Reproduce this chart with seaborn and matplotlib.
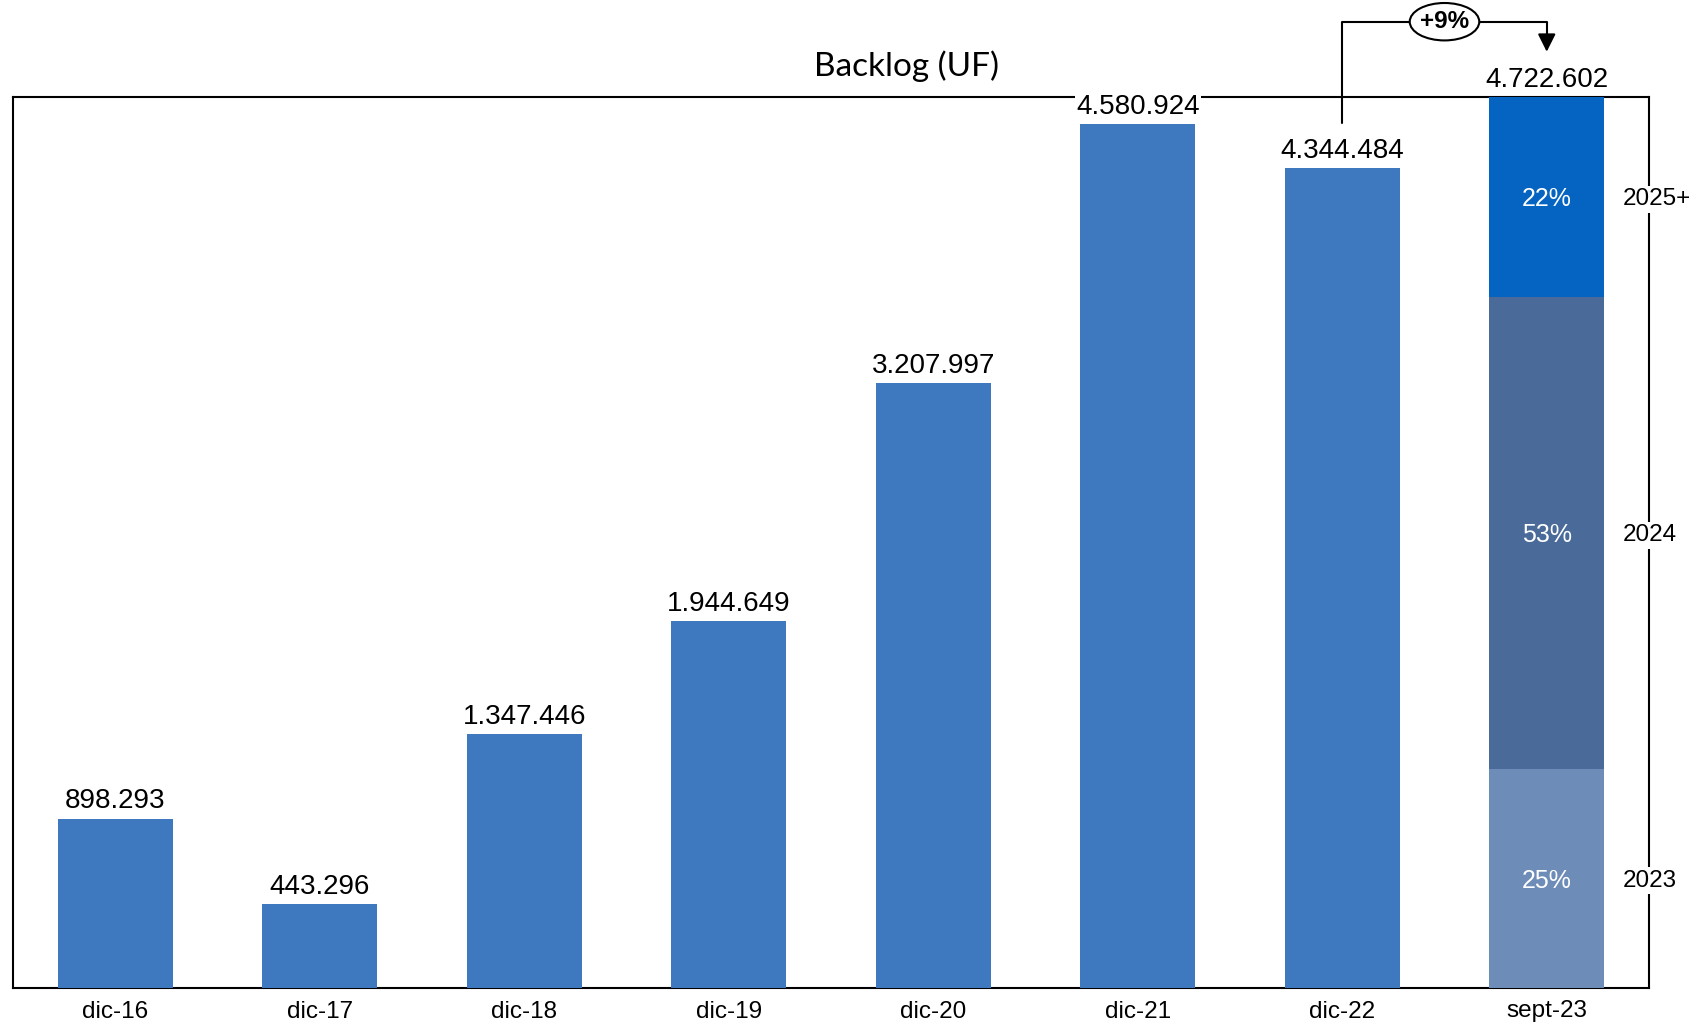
import matplotlib
matplotlib.use("Agg")
import matplotlib.pyplot as plt
import matplotlib.transforms as mtransforms
from matplotlib.patches import Ellipse
from matplotlib.lines import Line2D
import seaborn as sns
import pandas as pd

# Backlog totals per period (UF)
periods = ["dic-16", "dic-17", "dic-18", "dic-19", "dic-20", "dic-21", "dic-22", "sept-23"]
backlog = [898293, 443296, 1347446, 1944649, 3207997, 4580924, 4344484, 4722602]

# Breakdown of the latest backlog by execution year (% of total)
years = ["2023", "2024", "2025+"]
year_share = [24.6, 53.0, 22.4]

bar_color = "#3E78BE"
year_colors = ["#6D8CB7", "#4A6B9A", "#0563C1"]

sns.set_theme(style="white")
plt.rcParams["font.family"] = ["Liberation Sans", "DejaVu Sans"]

fig = plt.figure(figsize=(16.91, 10.24), dpi=100)
ax = fig.add_axes([13 / 1691, 1 - 988 / 1024, 1636 / 1691, 891 / 1024])

df = pd.DataFrame({"period": periods, "backlog": backlog})
hist = df.iloc[:-1]
sns.barplot(data=hist, x="period", y="backlog", order=periods, color=bar_color,
            saturation=1, width=0.56, linewidth=0, ax=ax, zorder=2)

# Stacked breakdown of the last bar: draw cumulative layers from top to bottom
total = backlog[-1]
cum = []
acc = 0
for s in year_share:
    acc += s
    cum.append(acc)
for k in reversed(range(len(years))):
    layer = pd.DataFrame({"period": [periods[-1]], "backlog": [total * cum[k] / 100]})
    sns.barplot(data=layer, x="period", y="backlog", order=periods, color=year_colors[k],
                saturation=1, width=0.56, linewidth=0, ax=ax, zorder=2)

ax.set_xlim(-0.5, len(periods) - 0.5)
ax.set_ylim(0, total)
ax.set_xlabel("")
ax.set_ylabel("")
ax.set_yticks([])
ax.tick_params(axis="x", length=0, labelsize=17.5, pad=9, colors="black")
for sp in ax.spines.values():
    sp.set_visible(True)
    sp.set_color("black")
    sp.set_linewidth(1.5)
    sp.set_zorder(1)

# Value labels above each bar
for i, v in enumerate(backlog):
    label = f"{v:,}".replace(",", ".")
    ax.annotate(label, (i, v), xytext=(0, 3), textcoords="offset points",
                ha="center", va="bottom", fontsize=20, color="black", zorder=5,
                bbox=dict(boxstyle="square,pad=0.05", fc="white", ec="none"))

# Percentages inside the segments and year labels at the right edge
blend = mtransforms.blended_transform_factory(ax.transAxes, ax.transData)
lower = 0
for k, (yr, s) in enumerate(zip(years, year_share)):
    mid = total * (lower + s / 2) / 100
    ax.text(len(periods) - 1, mid, f"{s:.0f}%", ha="center", va="center_baseline",
            fontsize=18, color="white", zorder=5)
    ax.text(0.984, mid, yr, transform=blend, ha="left", va="center_baseline", fontsize=17.5,
            color="black", zorder=5, clip_on=False,
            bbox=dict(boxstyle="square,pad=0.1", fc="white", ec="none"))
    lower += s

# Growth bracket between the last two periods
growth = round((backlog[-1] / backlog[-2] - 1) * 100)
bt = mtransforms.blended_transform_factory(ax.transData, ax.transAxes)
x0, x1 = len(periods) - 2, len(periods) - 1
y_start = backlog[-2] / total + 0.0505
y_top = 1.0845
y_tip = 1.0508
ax.add_line(Line2D([x0, x0, x1, x1], [y_start, y_top, y_top, y_tip + 0.005],
                   transform=bt, color="black", lw=1.5, clip_on=False, zorder=6))
ax.annotate("", xy=(x1, y_tip), xycoords=bt, xytext=(x1, y_tip + 0.02), textcoords=bt,
            arrowprops=dict(arrowstyle="-|>,head_width=0.45,head_length=0.9",
                            color="black", lw=1.5, shrinkA=0, shrinkB=0),
            annotation_clip=False, zorder=6)
ell = Ellipse(((x0 + x1) / 2, y_top), width=0.34, height=0.042, transform=bt,
              facecolor="white", edgecolor="black", lw=1.5, clip_on=False, zorder=7)
ax.add_patch(ell)
ax.text((x0 + x1) / 2, y_top, f"+{growth}%", transform=bt, ha="center", va="center",
        fontsize=17.5, fontweight="bold", color="black", zorder=8, clip_on=False)

fig.text(906 / 1691, 1 - 66 / 1024, "Backlog (UF)", ha="center", va="center",
         fontsize=24, family=["Lato", "DejaVu Sans"], color="black")

fig.savefig("out.png", dpi=100)
